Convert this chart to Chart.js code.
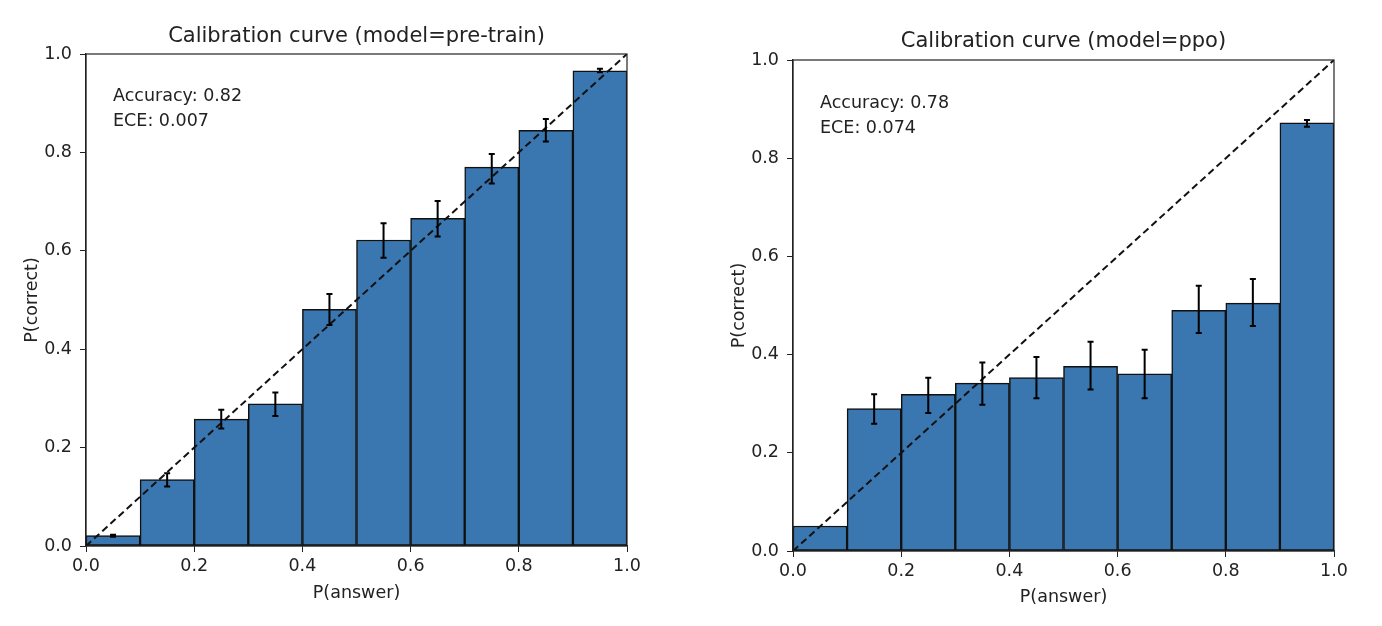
<!DOCTYPE html>
<html>
<head>
<meta charset="utf-8">
<script src="https://cdn.jsdelivr.net/npm/chart.js@4/dist/chart.umd.min.js"></script>
<style>
  html, body { margin: 0; padding: 0; background: #fff; }
  #wrap { position: relative; width: 1382px; height: 626px; }
  canvas { position: absolute; top: 0; }
  #left { left: 0; }
  #right { left: 691px; }
</style>
</head>
<body>
<div id="wrap">
  <canvas id="left" width="691" height="626"></canvas>
  <canvas id="right" width="691" height="626"></canvas>
</div>
<script>
// bins of P(answer)
const binCenters = [0.05, 0.15, 0.25, 0.35, 0.45, 0.55, 0.65, 0.75, 0.85, 0.95];
const tickValues = [0, 0.2, 0.4, 0.6, 0.8, 1.0];

// pre-train model
const pretrainAcc = [0.021, 0.135, 0.258, 0.289, 0.481, 0.622, 0.666, 0.770, 0.845, 0.966];
const pretrainLo  = [0.019, 0.121, 0.239, 0.264, 0.449, 0.586, 0.629, 0.737, 0.822, 0.963];
const pretrainHi  = [0.023, 0.148, 0.277, 0.312, 0.512, 0.656, 0.701, 0.797, 0.868, 0.970];
const pretrainNotes = ['Accuracy: 0.82', 'ECE: 0.007'];

// ppo model
const ppoAcc = [0.051, 0.290, 0.319, 0.342, 0.353, 0.376, 0.361, 0.490, 0.505, 0.872];
const ppoLo  = [null, 0.259, 0.281, 0.298, 0.311, 0.329, 0.311, 0.444, 0.458, 0.864];
const ppoHi  = [null, 0.319, 0.353, 0.384, 0.395, 0.426, 0.410, 0.540, 0.554, 0.878];
const ppoNotes = ['Accuracy: 0.78', 'ECE: 0.074'];

const FONT = '"DejaVu Sans", sans-serif';
const TEXT = '#222';
const BAR_FILL = '#3a76af';
const SMALL = 17.5;

// error bars, frame and text box drawn with the chart's own scales
const calibrationExtras = {
  id: 'calibrationExtras',
  afterDatasetsDraw(chart, args, opts) {
    const { ctx, scales: { x, y } } = chart;
    ctx.save();
    ctx.strokeStyle = '#000';
    ctx.lineWidth = 2;
    opts.lo.forEach((lo, i) => {
      const hi = opts.hi[i];
      if (lo === null || hi === null) return;
      const px = x.getPixelForValue(binCenters[i]);
      const y1 = y.getPixelForValue(lo);
      const y2 = y.getPixelForValue(hi);
      ctx.beginPath();
      ctx.moveTo(px, y1); ctx.lineTo(px, y2);
      ctx.moveTo(px - 3, y1); ctx.lineTo(px + 3, y1);
      ctx.moveTo(px - 3, y2); ctx.lineTo(px + 3, y2);
      ctx.stroke();
    });
    ctx.restore();
  },
  afterDraw(chart, args, opts) {
    const { ctx, chartArea: a, scales: { x, y } } = chart;
    ctx.save();
    ctx.strokeStyle = '#222';
    ctx.lineWidth = 1.2;
    ctx.strokeRect(a.left, a.top, a.right - a.left, a.bottom - a.top);
    ctx.fillStyle = TEXT;
    ctx.font = SMALL + 'px ' + FONT;
    ctx.textBaseline = 'middle';
    ctx.textAlign = 'left';
    opts.notes.forEach((line, i) => {
      ctx.fillText(line, x.getPixelForValue(0.05), y.getPixelForValue(opts.noteY[i]));
    });
    ctx.restore();
  }
};

function makeChart(canvasId, title, acc, lo, hi, notes, box) {
  const ctx = document.getElementById(canvasId).getContext('2d');
  return new Chart(ctx, {
    data: {
      datasets: [
        {
          type: 'line',
          data: [{ x: 0, y: 0 }, { x: 1, y: 1 }],
          borderColor: '#111',
          borderWidth: 2,
          borderDash: [7, 4],
          pointRadius: 0,
          order: 0
        },
        {
          type: 'bar',
          data: binCenters.map((c, i) => ({ x: c, y: acc[i] })),
          backgroundColor: BAR_FILL,
          borderColor: '#111',
          borderWidth: 1.5,
          borderSkipped: false,
          barPercentage: 1,
          categoryPercentage: 1,
          order: 1
        }
      ]
    },
    options: {
      responsive: false,
      animation: false,
      layout: { padding: { left: 0, right: box.padRight, top: 0, bottom: 0 } },
      plugins: {
        legend: { display: false },
        tooltip: { enabled: false },
        title: {
          display: true,
          text: title,
          fullSize: false,
          color: TEXT,
          font: { family: FONT, size: 21, lineHeight: '24px', weight: 'normal' },
          padding: { top: box.titleTop, bottom: box.titleBottom }
        },
        calibrationExtras: { lo: lo, hi: hi, notes: notes, noteY: box.noteY }
      },
      scales: {
        x: {
          type: 'linear',
          min: 0,
          max: 1,
          offset: false,
          afterBuildTicks: s => { s.ticks = tickValues.map(v => ({ value: v })); },
          afterFit: s => { s.height = box.xHeight; },
          ticks: {
            color: TEXT,
            padding: 4,
            maxRotation: 0,
            font: { family: FONT, size: SMALL },
            callback: v => v.toFixed(1)
          },
          grid: { display: true, offset: false, drawOnChartArea: false, drawTicks: true, tickLength: 6, color: '#222' },
          border: { color: '#222', width: 1.2 },
          title: {
            display: true,
            text: 'P(answer)',
            color: TEXT,
            font: { family: FONT, size: SMALL },
            padding: { top: 0, bottom: box.xTitlePad }
          }
        },
        y: {
          min: 0,
          max: 1,
          afterBuildTicks: s => { s.ticks = tickValues.map(v => ({ value: v })); },
          afterFit: s => { s.width = box.yWidth; },
          ticks: {
            color: TEXT,
            padding: 8,
            font: { family: FONT, size: SMALL },
            callback: v => v.toFixed(1)
          },
          grid: { display: true, drawOnChartArea: false, drawTicks: true, tickLength: 6, color: '#222' },
          border: { color: '#222', width: 1.2 },
          title: {
            display: true,
            text: 'P(correct)',
            color: TEXT,
            font: { family: FONT, size: SMALL },
            padding: { top: box.yTitlePad, bottom: 0 }
          }
        }
      }
    },
    plugins: [calibrationExtras]
  });
}

makeChart('left', 'Calibration curve (model=pre-train)', pretrainAcc, pretrainLo, pretrainHi, pretrainNotes, {
  padRight: 64, titleTop: 25, titleBottom: 5, xHeight: 80, yWidth: 86,
  xTitlePad: 22, yTitlePad: 22, noteY: [0.913, 0.862]
});

makeChart('right', 'Calibration curve (model=ppo)', ppoAcc, ppoLo, ppoHi, ppoNotes, {
  padRight: 48, titleTop: 30, titleBottom: 6, xHeight: 75, yWidth: 102,
  xTitlePad: 18, yTitlePad: 38, noteY: [0.912, 0.861]
});
</script>
</body>
</html>
